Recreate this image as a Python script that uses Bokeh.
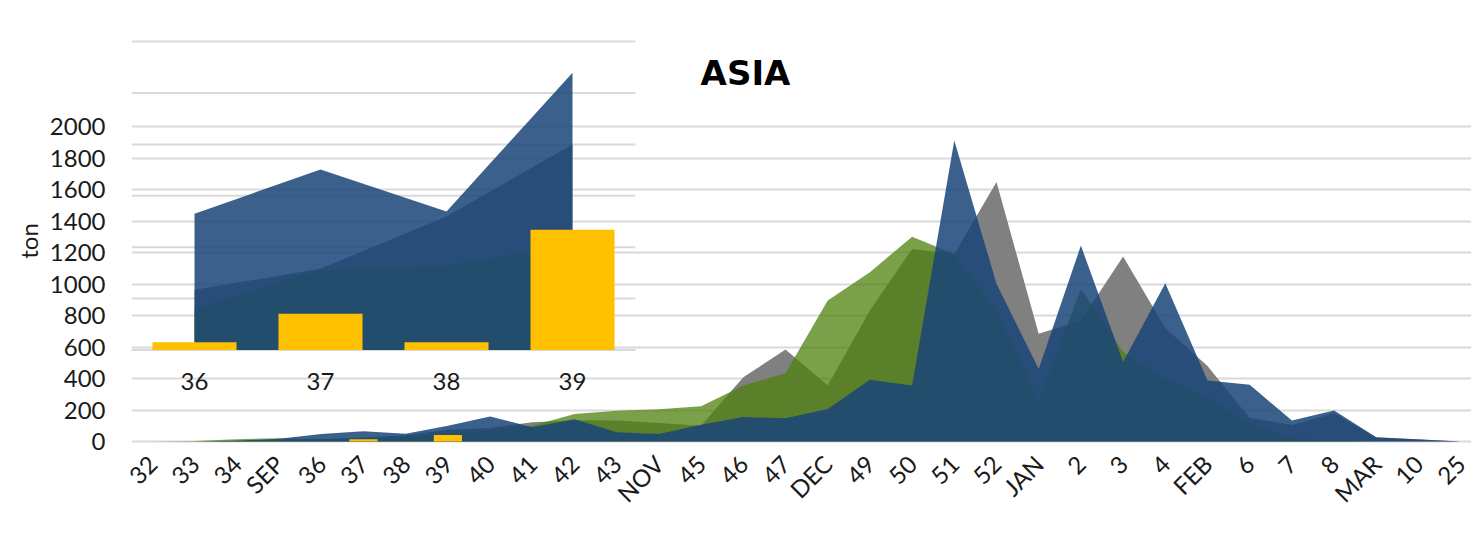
import numpy as np
from bokeh.plotting import figure
from bokeh.models import Range1d, FixedTicker, Label
from bokeh.core.properties import value
from bokeh.embed import file_html
from bokeh.resources import INLINE

# ---------------- data ----------------
weeks = ["32", "33", "34", "SEP", "36", "37", "38", "39", "40", "41", "42", "43",
         "NOV", "45", "46", "47", "DEC", "49", "50", "51", "52", "JAN", "2", "3",
         "4", "FEB", "6", "7", "8", "MAR", "10", "25"]
grey_s = [0, 0, 5, 10, 15, 25, 40, 75, 85, 123, 135, 133, 117, 100, 408, 584,
          355, 832, 1223, 1190, 1647, 684, 768, 1175, 720, 480, 150, 105, 180, 25, 15, 0]
green_s = [0, 3, 15, 20, 15, 20, 30, 50, 70, 100, 175, 195, 205, 224, 355, 434,
           895, 1075, 1300, 1190, 832, 260, 970, 570, 400, 281, 113, 19, 5, 0, 0, 0]
blue_s = [0, 0, 5, 18, 48, 65, 50, 100, 158, 91, 142, 59, 48, 107, 155, 148,
          207, 392, 355, 1911, 1001, 461, 1244, 504, 1005, 387, 360, 133, 197, 27, 12, 0]
bars_s = [0, 0, 0, 0, 0, 14, 0, 42, 0, 0, 0, 0, 0, 0, 0, 0,
          0, 0, 0, 0, 0, 0, 0, 0, 0, 0, 0, 0, 0, 0, 0, 0]
y_ticks = [0, 200, 400, 600, 800, 1000, 1200, 1400, 1600, 1800, 2000]

inset_weeks = ["36", "37", "38", "39"]
inset_grey = [585, 790, 1299, 1999]
inset_green = [401, 780, 822, 1026]
inset_blue = [1325, 1756, 1347, 2697]
inset_bars = [76, 352, 76, 1169]
inset_grid = [0, 500, 1000, 1500, 2000, 2500, 3000]

# ---------------- layout constants (pixels) ----------------
W, H = 1471, 539
FL, FR, FT, FB = 131, 1471, 38, 443          # frame edges
MX0, MDX = 152.0, 42.2                        # main: first category px, px per category
MY0, MDY = 441.0, 0.1575                      # main: zero px, px per unit
IX0, IDX = 194.0, 126.0                       # inset x
IY0, IDY = 349.5, 0.1028                      # inset y

GREY = "#808080"
GREEN = "#4E820E"
BLUE = "#1A4478"
YELLOW = "#FFC000"
GRID = "#D9D9D9"
TXT = "#1a1a1a"
FONT = "Lato"

x_rng = Range1d((FL - MX0) / MDX, (FR - MX0) / MDX)
y_rng = Range1d((MY0 - FB) / MDY, (MY0 - FT) / MDY)

p = figure(width=W, height=H, x_range=x_rng, y_range=y_rng,
           output_backend="svg", toolbar_location=None,
           min_border_left=FL, min_border_right=W - FR,
           min_border_top=FT, min_border_bottom=H - FB)
p.extra_x_ranges = {"ix": Range1d((FL - IX0) / IDX, (FR - IX0) / IDX)}
p.extra_y_ranges = {"iy": Range1d((IY0 - FB) / IDY, (IY0 - FT) / IDY)}

p.outline_line_color = None
p.background_fill_color = "white"
p.border_fill_color = "white"

# axes
idx = list(range(len(weeks)))
p.xaxis.ticker = FixedTicker(ticks=idx)
p.xaxis.major_label_overrides = {i: w for i, w in enumerate(weeks)}
p.xaxis.major_label_orientation = np.pi / 4
p.xaxis.axis_line_color = None
p.xaxis.major_tick_line_color = None
p.xaxis.minor_tick_line_color = None
p.xaxis.major_label_standoff = 10
p.xaxis.major_label_text_font = FONT
p.xaxis.major_label_text_font_size = "24px"
p.xaxis.major_label_text_color = TXT

p.yaxis.ticker = FixedTicker(ticks=y_ticks)
p.yaxis.axis_line_color = None
p.yaxis.major_tick_line_color = None
p.yaxis.minor_tick_line_color = None
p.yaxis.major_label_standoff = 20
p.yaxis.major_label_text_font = FONT
p.yaxis.major_label_text_font_size = "24px"
p.yaxis.major_label_text_color = TXT
p.yaxis.axis_label = "ton"
p.yaxis.axis_label_text_font = FONT
p.yaxis.axis_label_text_font_size = "24px"
p.yaxis.axis_label_text_font_style = "normal"
p.yaxis.axis_label_text_color = TXT
p.yaxis.axis_label_standoff = 4

p.xgrid.visible = False
p.ygrid.ticker = FixedTicker(ticks=y_ticks)
p.ygrid.grid_line_color = GRID
p.ygrid.grid_line_width = 2

# inset grid lines
n_in = len(inset_weeks)
p.segment(x0=[-0.5] * len(inset_grid), x1=[n_in - 0.5] * len(inset_grid),
          y0=inset_grid, y1=inset_grid, line_color=GRID, line_width=2,
          x_range_name="ix", y_range_name="iy")

# main areas
p.varea(x=idx, y1=0, y2=grey_s, fill_color=GREY, fill_alpha=1.0)
p.varea(x=idx, y1=0, y2=green_s, fill_color=GREEN, fill_alpha=0.75)
p.varea(x=idx, y1=0, y2=blue_s, fill_color=BLUE, fill_alpha=0.85)

# inset areas
iidx = list(range(n_in))
p.varea(x=iidx, y1=0, y2=inset_grey, fill_color=GREY, fill_alpha=1.0,
        x_range_name="ix", y_range_name="iy")
p.varea(x=iidx, y1=0, y2=inset_green, fill_color=GREEN, fill_alpha=0.75,
        x_range_name="ix", y_range_name="iy")
p.varea(x=iidx, y1=0, y2=inset_blue, fill_color=BLUE, fill_alpha=0.85,
        x_range_name="ix", y_range_name="iy")

# bars
p.vbar(x=idx, top=bars_s, bottom=0, width=0.667, fill_color=YELLOW, line_color=None)
p.vbar(x=iidx, top=inset_bars, bottom=0, width=0.667, fill_color=YELLOW, line_color=None,
       x_range_name="ix", y_range_name="iy")

# inset category labels
lab_y = (IY0 - 381) / IDY
p.text(x=iidx, y=[lab_y] * n_in, text=inset_weeks, x_range_name="ix", y_range_name="iy",
       text_font=value(FONT), text_font_size="24px", text_align="center",
       text_baseline="middle", text_color=TXT)

# title
p.add_layout(Label(x=(745 - MX0) / MDX, y=(MY0 - 72) / MDY, text="ASIA",
                   text_font="DejaVu Sans", text_font_style="bold", text_font_size="34px",
                   text_align="center", text_baseline="middle", text_color="black"))

open("out.html", "w").write(file_html(p, INLINE))
